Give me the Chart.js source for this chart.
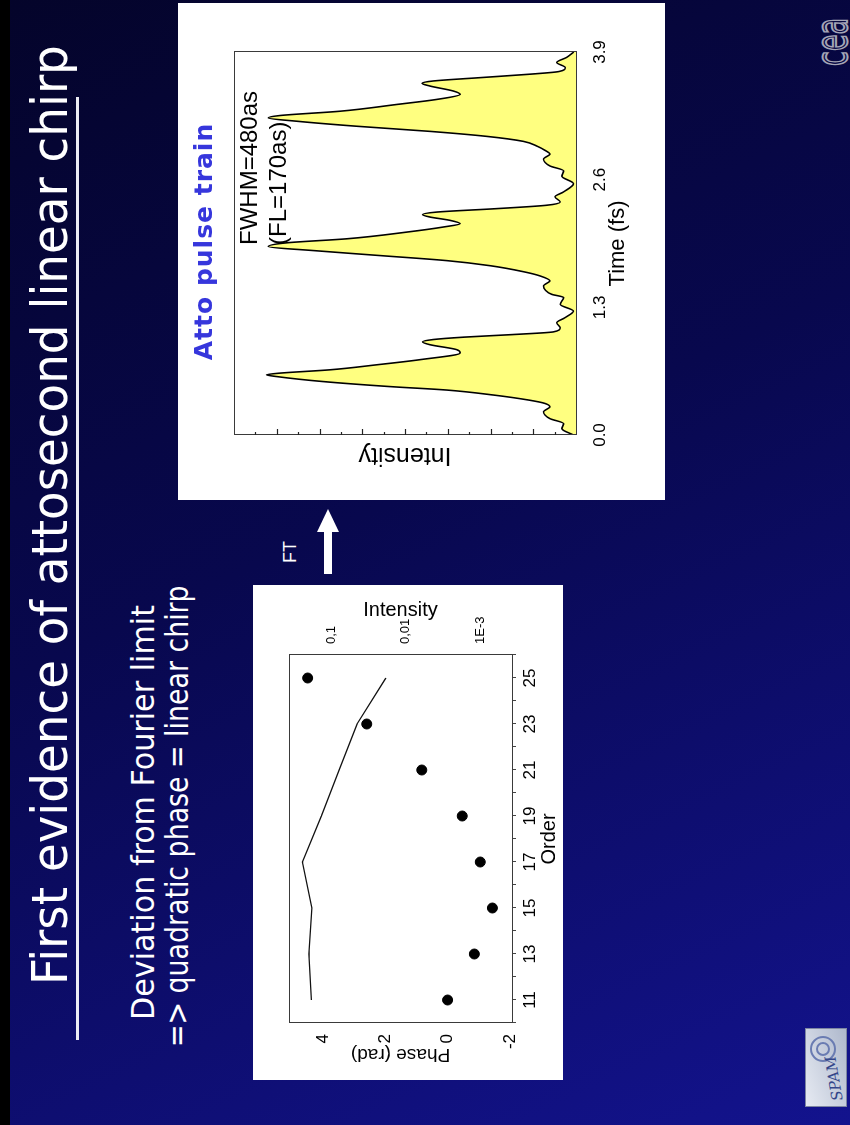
<!DOCTYPE html>
<html>
<head>
<meta charset="utf-8">
<script src="https://cdn.jsdelivr.net/npm/chart.js@4.4.0/dist/chart.umd.min.js"></script>
<style>
html, body { margin: 0; padding: 0; }
body {
  width: 850px; height: 1125px; overflow: hidden; position: relative;
  background: linear-gradient(155deg, #04042a 0%, #08084e 45%, #13138e 100%);
}
#edge { position: absolute; left: 0; top: 0; width: 10px; height: 1125px; background: #000; }
/* the slide is landscape, turned a quarter turn to the left */
#slide {
  position: absolute; left: 0; top: 0; width: 1125px; height: 850px;
  transform-origin: 0 0; transform: translateY(1125px) rotate(-90deg);
  font-family: "Liberation Sans Narrow", "DejaVu Sans Condensed", sans-serif; color: #fff;
}
.fit { position: absolute; white-space: nowrap; line-height: 1; transform-origin: 0 0; }
#title { left: 140px; top: 25px; font-size: 50px; }
#rule { position: absolute; left: 85px; top: 76px; width: 943px; height: 3px; background: #ececf4; }
#sub1 { left: 105px; top: 127px; font-size: 32px; }
#sub2 { left: 78px; top: 161px; font-size: 32px; }
.box { position: absolute; background: #fff; }
.box canvas { display: block; }
#phaseBox { left: 45px; top: 253px; width: 495px; height: 310px; }
#attoBox { left: 625px; top: 178px; width: 497px; height: 487px; }
#ft { position: absolute; left: 562px; top: 281px; font: 18px "Liberation Sans", sans-serif; line-height: 1; }
#arrow { position: absolute; left: 548px; top: 316px; }
#spam {
  position: absolute; left: 18px; top: 805px; width: 77px; height: 40px;
  background: linear-gradient(160deg, #e6eaf2, #aeb8cc); border: 1px solid #7d86a2; overflow: hidden;
}
#spam span { position: absolute; left: 5px; bottom: 3px; font: italic 15px "DejaVu Serif", serif; color: #34468a; transform: rotate(-10deg); }
#spam i { position: absolute; border: 2px solid #6a7cb2; border-radius: 50%; }
#cea { left: 1059px; top: 806px; font: 44px "DejaVu Sans", sans-serif; color: transparent; -webkit-text-stroke: 2px #a4a4b6; }
</style>
</head>
<body>
<div id="edge"></div>
<div id="slide">
  <div id="title" class="fit" data-w="940">First evidence of attosecond linear chirp</div>
  <div id="rule"></div>
  <div id="sub1" class="fit" data-w="415">Deviation from Fourier limit</div>
  <div id="sub2" class="fit" data-w="462">=&gt; quadratic phase = linear chirp</div>

  <div id="phaseBox" class="box"><canvas id="phaseChart" width="495" height="310"></canvas></div>
  <div id="attoBox" class="box"><canvas id="attoChart" width="497" height="487"></canvas></div>

  <div id="ft">FT</div>
  <svg id="arrow" width="70" height="24">
    <rect x="3" y="8" width="45" height="8" fill="#fff"/>
    <polygon points="45,1 68,12 45,23" fill="#fff"/>
  </svg>

  <div id="spam"><i style="left:44px;top:4px;width:22px;height:22px"></i><i style="left:50px;top:10px;width:10px;height:10px"></i><span>SPAM</span></div>
  <div id="cea" class="fit" data-w="48">cea</div>
</div>

<script>
// harmonic phase / intensity
const orders = [11, 13, 15, 17, 19, 21, 23, 25];
const phase = [0.0, -0.86, -1.44, -1.05, -0.47, 0.83, 2.6, 4.5];
const harmInt = [0.188, 0.203, 0.185, 0.249, 0.138, 0.0796, 0.0455, 0.0186];
const phaseTicks = [-2, 0, 2, 4];
const logTicks = [0.1, 0.01, 0.001];
const logLabels = ['0,1', '0,01', '1E-3'];

// attosecond pulse train
const time = [0.00, 0.065, 0.116, 0.167, 0.236, 0.287, 0.322, 0.356, 0.407, 0.458,
  0.493, 0.544, 0.595, 0.613, 0.630, 0.664, 0.715, 0.767, 0.835, 0.869,
  0.920, 0.948, 0.972, 0.996, 1.023, 1.050, 1.091, 1.143, 1.194, 1.262,
  1.330, 1.400, 1.433, 1.518, 1.570, 1.620, 1.663, 1.724, 1.776, 1.827,
  1.878, 1.919, 1.957, 1.998, 2.066, 2.118, 2.152, 2.186, 2.220, 2.244,
  2.270, 2.305, 2.339, 2.373, 2.425, 2.476, 2.560, 2.635, 2.690, 2.740,
  2.810, 2.860, 2.900, 2.939, 2.990, 3.041, 3.092, 3.144, 3.195, 3.229,
  3.253, 3.297, 3.366, 3.417, 3.469, 3.503, 3.554, 3.581, 3.605, 3.639,
  3.674, 3.701, 3.742, 3.793, 3.845, 3.900];
const pulse = [0.06, 0.33, 0.29, 0.61, 0.76, 0.61, 0.73, 1.11, 1.93, 3.03,
  4.35, 5.91, 7.00, 7.24, 6.93, 5.75, 4.66, 3.65, 2.71, 2.79,
  3.42, 3.59, 3.34, 2.64, 1.47, 0.53, 0.37, 0.45, 0.26, 0.06,
  0.37, 0.29, 0.57, 0.76, 0.61, 0.84, 1.23, 2.01, 3.03, 4.58,
  6.14, 7.20, 6.77, 5.36, 3.96, 3.10, 2.71, 2.95, 3.42, 3.59,
  3.26, 1.86, 0.70, 0.37, 0.49, 0.29, 0.06, 0.33, 0.29, 0.61,
  0.76, 0.61, 0.73, 0.90, 1.23, 2.09, 3.42, 5.13, 6.53, 7.20,
  6.93, 5.52, 4.19, 3.26, 2.71, 2.87, 3.42, 3.60, 3.34, 2.24,
  1.08, 0.40, 0.25, 0.45, 0.22, 0.05];
const timeTicks = [0, 1.3, 2.6, 3.9];
const majorTicks = [1, 2, 3, 4, 5, 6, 7];
const minorTicks = [0.5, 1.5, 2.5, 3.5, 4.5, 5.5, 6.5, 7.5];
const noteLines = ['FWHM=480as', '(FL=170as)'];

Chart.defaults.font.family = '"Liberation Sans", Arial, sans-serif';
Chart.defaults.color = '#000';

// box round the plot
const frame = {
  id: 'frame',
  afterDraw(chart) {
    const a = chart.chartArea, c = chart.ctx;
    c.save();
    c.strokeStyle = '#3a3a3a';
    c.lineWidth = 1;
    c.strokeRect(a.left + 0.5, a.top + 0.5, a.right - a.left, a.bottom - a.top);
    c.restore();
  }
};

// short tick marks pointing into the plot on the intensity axis
const innerTicks = {
  id: 'innerTicks',
  afterDraw(chart) {
    const y = chart.scales.y, left = chart.chartArea.left, c = chart.ctx;
    c.save();
    c.strokeStyle = '#222';
    c.lineWidth = 1.2;
    const mark = (v, len) => {
      const p = Math.round(y.getPixelForValue(v)) + 0.5;
      c.beginPath(); c.moveTo(left, p); c.lineTo(left + len, p); c.stroke();
    };
    majorTicks.forEach(v => mark(v, 6));
    minorTicks.forEach(v => mark(v, 3));
    c.restore();
  }
};

const attoText = {
  id: 'attoText',
  afterDraw(chart) {
    const a = chart.chartArea, c = chart.ctx;
    c.save();
    c.fillStyle = '#3636dc';
    c.font = 'bold 25px "DejaVu Sans", sans-serif';
    c.letterSpacing = '1px';
    c.textAlign = 'center';
    c.textBaseline = 'middle';
    c.fillText('Atto pulse train', (a.left + a.right) / 2 + 2, 27);
    c.letterSpacing = '0px';
    c.fillStyle = '#000';
    c.font = '24px "Liberation Sans", Arial, sans-serif';
    c.textAlign = 'left';
    const x = chart.scales.x.getPixelForValue(1.935);
    c.fillText(noteLines[0], x, chart.scales.y.getPixelForValue(7.62));
    c.fillText(noteLines[1], x, chart.scales.y.getPixelForValue(6.94));
    c.restore();
  }
};

new Chart(document.getElementById('phaseChart'), {
  type: 'scatter',
  data: {
    datasets: [{
      label: 'Phase',
      data: orders.map((o, i) => ({x: o, y: phase[i]})),
      yAxisID: 'y',
      backgroundColor: '#000',
      borderColor: '#000',
      pointRadius: 5,
      pointHoverRadius: 5
    }, {
      label: 'Intensity',
      data: orders.map((o, i) => ({x: o, y: harmInt[i]})),
      yAxisID: 'y2',
      showLine: true,
      borderColor: '#111',
      borderWidth: 1.2,
      pointRadius: 0,
      fill: false
    }]
  },
  options: {
    responsive: false,
    animation: false,
    layout: {padding: {top: 36, left: 0, right: 0, bottom: 0}},
    plugins: {legend: {display: false}, tooltip: {enabled: false}},
    scales: {
      x: {
        type: 'linear', min: 10, max: 26,
        ticks: {stepSize: 1, autoSkip: false, maxRotation: 0, padding: 4, font: {size: 17},
          callback: v => (v % 2 ? String(v) : '')},
        grid: {drawOnChartArea: false, tickLength: 4, color: '#444'},
        border: {display: false},
        title: {display: true, text: 'Order', font: {size: 20}, padding: {top: 0, bottom: 2}},
        afterFit: s => { s.height = 51; }
      },
      y: {
        type: 'linear', position: 'left', min: -2.07, max: 5.1,
        afterBuildTicks: s => { s.ticks = phaseTicks.map(v => ({value: v})); },
        ticks: {padding: 3, font: {size: 17}},
        grid: {display: false},
        border: {display: false},
        title: {display: true, text: 'Phase (rad)', font: {size: 19}, padding: {top: 14}},
        afterFit: s => { s.width = 57; }
      },
      y2: {
        type: 'logarithmic', position: 'right', min: 0.00037, max: 0.377,
        afterBuildTicks: s => { s.ticks = logTicks.map(v => ({value: v})); },
        ticks: {padding: 3, font: {size: 13}, callback: (v, i) => logLabels[i]},
        grid: {display: false},
        border: {display: false},
        title: {display: true, text: 'Intensity', font: {size: 20}, padding: {top: 13}},
        afterFit: s => { s.width = 70; }
      }
    }
  },
  plugins: [frame]
});

new Chart(document.getElementById('attoChart'), {
  type: 'line',
  data: {
    datasets: [{
      label: 'Intensity',
      data: time.map((t, i) => ({x: t, y: pulse[i]})),
      borderColor: '#000',
      borderWidth: 1.6,
      backgroundColor: '#ffff80',
      fill: 'origin',
      pointRadius: 0,
      cubicInterpolationMode: 'monotone'
    }]
  },
  options: {
    responsive: false,
    animation: false,
    layout: {padding: {top: 56, left: 0, right: 49, bottom: 0}},
    plugins: {legend: {display: false}, tooltip: {enabled: false}},
    scales: {
      x: {
        type: 'linear', min: 0, max: 3.9,
        afterBuildTicks: s => { s.ticks = timeTicks.map(v => ({value: v})); },
        ticks: {maxRotation: 0, padding: 6, font: {size: 17}, callback: v => v.toFixed(1)},
        grid: {display: false},
        border: {display: false},
        title: {display: true, text: 'Time (fs)', font: {size: 22}, padding: {top: 0, bottom: 34}},
        afterFit: s => { s.height = 89; }
      },
      y: {
        min: 0, max: 8,
        ticks: {display: false},
        grid: {display: false},
        border: {display: false},
        title: {display: true, text: 'Intensity', font: {size: 25}, padding: {top: 30}},
        afterFit: s => { s.width = 65; }
      }
    }
  },
  plugins: [frame, innerTicks, attoText]
});

// stretch the slide texts to their widths
document.querySelectorAll('.fit').forEach(el => {
  const w = +el.dataset.w;
  el.style.transform = 'scaleX(' + (w / el.offsetWidth) + ')';
});
</script>
</body>
</html>
